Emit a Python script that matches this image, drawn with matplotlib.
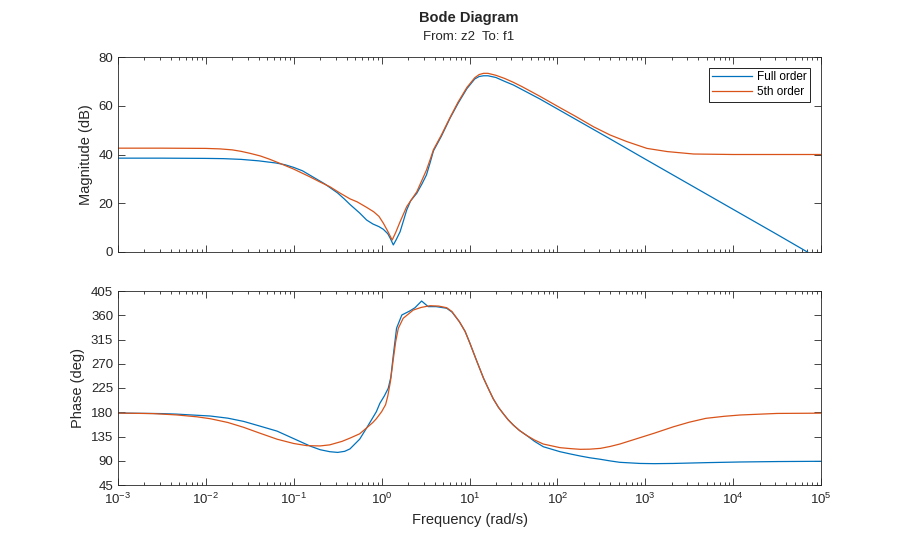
import numpy as np
import matplotlib
matplotlib.use('Agg')
import matplotlib.pyplot as plt
from matplotlib.ticker import LogLocator, NullFormatter, FixedLocator

plt.rcParams['font.family'] = ['Liberation Sans', 'DejaVu Sans']

# magnitude, full order (log10 of frequency, dB)
mag_full_logw = [-3, -2.5, -2, -1.8, -1.6, -1.4, -1.2, -1.1, -1.0, -0.9, -0.82, -0.65, -0.5,
                 -0.42, -0.36, -0.25, -0.17, -0.1, -0.03, 0.02, 0.07, 0.1, 0.133, 0.165, 0.21,
                 0.25, 0.285, 0.33, 0.40, 0.46, 0.51, 0.55, 0.59, 0.68, 0.78, 0.87, 0.97,
                 1.06, 1.11, 1.16, 1.21, 1.3, 1.4, 1.5, 1.6, 1.8, 2.2, 2.6, 3.0, 3.5, 4.0,
                 4.5, 4.84, 5.0]
mag_full_db = [38.5, 38.5, 38.4, 38.3, 38.0, 37.4, 36.5, 35.8, 34.7, 33.3, 31.6, 28.0, 24.2,
               21.6, 19.5, 16.0, 13.1, 11.5, 10.4, 9.3, 7.5, 5.5, 2.9, 5.0, 8.3,
               13.0, 17.2, 21.0, 24.1, 28.0, 31.6, 36.4, 41.5, 47.5, 55.0, 61.0, 67.0,
               71.0, 72.0, 72.3, 72.3, 71.6, 70.0, 68.5, 66.6, 62.8, 54.6, 46.4, 38.1, 27.8, 17.5,
               7.2, 0.1, -3.2]

# magnitude, 5th order
mag_red_logw = [-3, -2.5, -2, -1.84, -1.7, -1.6, -1.5, -1.38, -1.27, -1.16, -1.0, -0.82,
                -0.7, -0.59, -0.47, -0.36, -0.28, -0.17, -0.09, -0.03, 0.02, 0.07, 0.12,
                0.16, 0.21, 0.285, 0.40, 0.51, 0.55, 0.59, 0.68, 0.78, 0.87, 0.97, 1.06,
                1.11, 1.16, 1.21, 1.3, 1.4, 1.5, 1.6, 1.8, 2.03, 2.2, 2.41, 2.6, 2.79,
                3.02, 3.25, 3.55, 4.0, 5.0]
mag_red_db = [42.6, 42.6, 42.5, 42.3, 41.9, 41.3, 40.5, 39.4, 38.0, 36.4, 34.0, 30.9,
              28.7, 26.8, 24.1, 21.8, 20.6, 18.3, 16.5, 14.6, 11.8, 8.5, 4.9,
              8.0, 12.4, 18.6, 24.7, 33.6, 37.7, 42.0, 48.0, 55.3, 61.5, 67.5, 71.5,
              72.8, 73.3, 73.3, 72.5, 71.2, 69.6, 67.8, 63.9, 59.2, 55.8, 51.4, 48.0, 45.3,
              42.5, 41.2, 40.2, 40.0, 40.0]

# phase, full order (deg)
ph_full_logw = [-3, -2.5, -2.33, -1.95, -1.75, -1.57, -1.4, -1.19, -1.0, -0.81, -0.7,
                -0.59, -0.5, -0.42, -0.36, -0.25, -0.17, -0.06, -0.02, 0.03, 0.075, 0.105,
                0.133, 0.17, 0.23, 0.32, 0.38, 0.455, 0.53, 0.62, 0.74, 0.8, 0.885, 0.95,
                1.0, 1.08, 1.16, 1.22, 1.27, 1.33, 1.386, 1.44, 1.5, 1.57, 1.65, 1.74,
                1.84, 2.03, 2.15, 2.26, 2.37, 2.49, 2.6, 2.71, 2.94, 3.1, 3.32, 3.7, 4.08,
                4.5, 5.0]
ph_full_deg = [178.5, 177.5, 176.5, 173.0, 169.0, 163.0, 155.0, 145.0, 131.0, 117.0, 110.5,
               106.8, 105.5, 107.5, 112.0, 130.0, 151.0, 181.0, 196.6, 210.0, 224.4, 245.0,
               286.0, 336.0, 360.5, 367.9, 374.0, 386.4, 376.0, 376.0, 373.0, 366.0, 348.0, 330.0,
               310.0, 276.0, 243.0, 222.0, 205.0, 189.0, 177.0, 166.0, 156.0, 146.0, 137.0, 126.0,
               116.0, 106.8, 102.5, 98.8, 95.5, 92.7, 89.7, 87.1, 85.0, 84.6, 85.0, 86.5, 87.7,
               88.5, 89.0]

# phase, 5th order
ph_red_logw = [-3, -2.6, -2.33, -2.1, -1.95, -1.75, -1.57, -1.4, -1.19, -1.0, -0.85, -0.7,
               -0.59, -0.45, -0.36, -0.25, -0.17, -0.1, -0.06, 0.0, 0.045, 0.07, 0.10, 0.13,
               0.16, 0.19, 0.245, 0.36, 0.45, 0.55, 0.65, 0.74, 0.8, 0.885, 0.95, 1.0, 1.08,
               1.16, 1.22, 1.27, 1.33, 1.386, 1.44, 1.5, 1.57, 1.65, 1.74, 1.84, 2.03, 2.15,
               2.26, 2.37, 2.49, 2.6, 2.71, 2.94, 3.1, 3.32, 3.5, 3.69, 3.9, 4.08, 4.5, 5.0]
ph_red_deg = [178.5, 177.5, 175.0, 171.5, 168.0, 161.0, 152.0, 142.0, 130.0, 122.0, 118.0, 117.5,
              119.5, 126.0, 132.0, 140.0, 151.0, 161.0, 168.0, 181.0, 194.0, 210.0, 236.7, 275.0,
              311.0, 335.8, 354.3, 369.7, 374.5, 377.7, 377.0, 374.0, 367.0, 348.0, 330.0, 310.0, 276.0,
              243.0, 222.0, 205.0, 189.0, 177.0, 166.0, 156.0, 146.0, 137.0, 128.5, 121.0, 114.3, 112.5,
              111.2, 111.5, 113.0, 116.5, 121.0, 132.8, 141.0, 153.0, 161.5, 168.7, 172.5, 174.9, 177.8, 178.3]

blue = '#0072BD'
orange = '#D95319'
axcol = '#262626'

fig = plt.figure(figsize=(9.08, 5.46), dpi=100)
ax1 = fig.add_axes([118/908, 1 - 252/546, 703/908, 195/546])
ax2 = fig.add_axes([118/908, 1 - 485/546, 703/908, 194/546])

ax1.plot(10.0 ** np.array(mag_full_logw), mag_full_db, color=blue, lw=0.9, label='Full order')
ax1.plot(10.0 ** np.array(mag_red_logw), mag_red_db, color=orange, lw=0.9, label='5th order')
ax2.plot(10.0 ** np.array(ph_full_logw), ph_full_deg, color=blue, lw=0.9)
ax2.plot(10.0 ** np.array(ph_red_logw), ph_red_deg, color=orange, lw=0.9)

for ax in (ax1, ax2):
    ax.set_xscale('log')
    ax.set_xlim(1e-3, 1e5)
    ax.xaxis.set_major_locator(LogLocator(base=10, numticks=20))
    ax.xaxis.set_minor_locator(LogLocator(base=10, subs=np.arange(2, 10), numticks=100))
    ax.xaxis.set_minor_formatter(NullFormatter())
    ax.tick_params(which='both', direction='in', top=True, right=True, colors=axcol,
                   labelsize=9.5, width=0.6)
    ax.tick_params(which='major', length=5)
    ax.tick_params(which='minor', length=2.5)
    ax.tick_params(axis='x', pad=5)
    for s in ax.spines.values():
        s.set_color(axcol)
        s.set_linewidth(0.6)

ax1.set_ylim(0, 80)
ax1.yaxis.set_major_locator(FixedLocator([0, 20, 40, 60, 80]))
ax1.tick_params(axis='x', which='both', labelbottom=False)
ax1.set_ylabel('Magnitude (dB)', fontsize=10.5, color=axcol)

ax2.set_ylim(45, 405)
ax2.yaxis.set_major_locator(FixedLocator(np.arange(45, 406, 45)))
ax2.set_ylabel('Phase (deg)', fontsize=10.5, color=axcol)
ax2.set_xlabel('Frequency (rad/s)', fontsize=10.5, color=axcol)

leg = ax1.legend(loc='upper right', fontsize=8.5, frameon=True, fancybox=False,
                 edgecolor='black', framealpha=1, borderpad=0.3, handlelength=3.4,
                 handletextpad=0.4, labelspacing=0.25, borderaxespad=0.9)
leg.get_frame().set_linewidth(0.6)

fig.text(469/908, 1 - 18/546, 'Bode Diagram', ha='center', va='center',
         fontsize=10.5, fontweight='bold', color=axcol)
fig.text(469/908, 1 - 37/546, 'From: z2  To: f1', ha='center', va='center',
         fontsize=9.5, color=axcol)

fig.savefig('out.png', dpi=100)
